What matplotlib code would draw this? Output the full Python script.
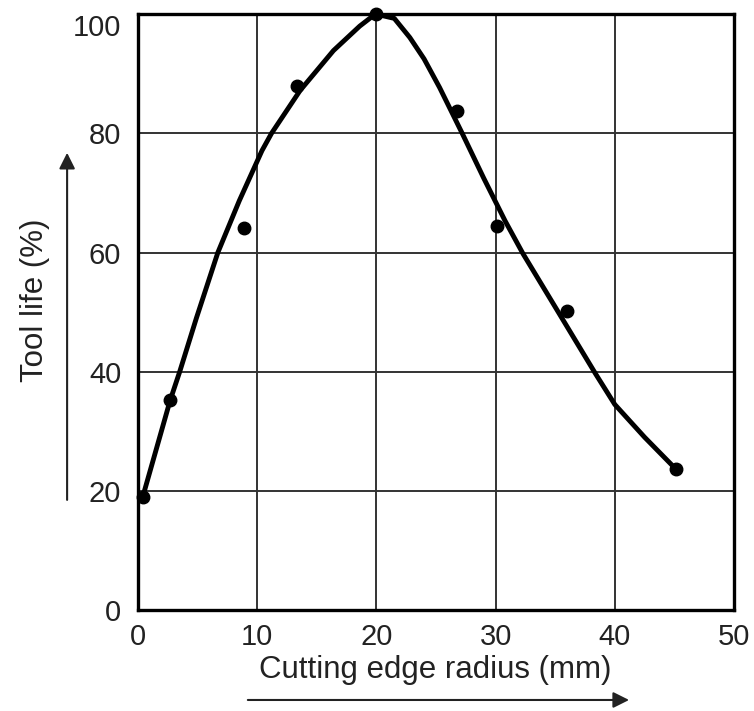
import matplotlib.pyplot as plt

plt.rcParams['font.family'] = ['Liberation Sans', 'DejaVu Sans']

# Measured points (cutting edge radius in mm, tool life in %)
radius = [0.4, 2.7, 8.9, 13.3, 20.0, 26.8, 30.1, 36.0, 45.1]
life = [19.0, 35.2, 64.1, 88.0, 100.0, 83.8, 64.5, 50.2, 23.7]

# Hand-drawn trend curve
curve_x = [0.4, 2.7, 3.5, 4.9, 6.7, 8.5, 10.4, 11.2, 13.6, 16.4, 18.6, 19.7, 20.0,
           21.5, 22.8, 24.0, 25.3, 27.2, 29.0, 30.8, 32.3, 35.2, 38.4, 40.0, 42.5, 45.1]
curve_y = [19.0, 35.2, 40.0, 49.0, 60.0, 68.7, 77.1, 80.0, 87.2, 93.9, 98.0, 99.7, 100.0,
           99.3, 96.1, 92.5, 87.7, 80.0, 72.5, 65.3, 59.8, 50.2, 39.6, 34.5, 29.0, 23.7]

xticks = [0, 10, 20, 30, 40, 50]
yticks = [0, 20, 40, 60, 80, 100]

fig = plt.figure(figsize=(7.54, 7.11), dpi=100)
ax = fig.add_axes([0.183, 0.142, 0.7905, 0.838])

ax.plot(curve_x, curve_y, color='black', linewidth=3.5, solid_capstyle='round',
        solid_joinstyle='round', zorder=3, clip_on=False)
ax.plot(radius, life, 'o', color='black', markersize=9, zorder=4, clip_on=False)

ax.set_xlim(0, 50)
ax.set_ylim(0, 100)
ax.set_xticks(xticks)
ax.set_yticks(yticks)
ax.tick_params(length=0, labelsize=21, colors='#222222')
ax.tick_params(axis='y', pad=12)
ax.tick_params(axis='x', pad=9)
ax.get_yticklabels()[-1].set_va('top')
ax.grid(True, color='#333333', linewidth=1.4)
ax.set_axisbelow(True)
for s in ax.spines.values():
    s.set_linewidth(2.4)
    s.set_color('black')

# Axis titles with arrows, placed in figure coordinates
fig.text(0.046, 0.578, 'Tool life (%)', rotation=90, fontsize=22.5, ha='center', va='center', color='#222222')
fig.text(0.577, 0.057, 'Cutting edge radius (mm)', fontsize=22.5, ha='center', va='center', color='#222222')
ax.annotate('', xy=(0.089, 0.789), xytext=(0.089, 0.293), xycoords='figure fraction',
            annotation_clip=False,
            arrowprops=dict(arrowstyle='-|>', color='#222222', lw=1.5, mutation_scale=24))
ax.annotate('', xy=(0.838, 0.0155), xytext=(0.325, 0.0155), xycoords='figure fraction',
            annotation_clip=False,
            arrowprops=dict(arrowstyle='-|>', color='#222222', lw=1.5, mutation_scale=24))

fig.savefig('out.png', dpi=100)
